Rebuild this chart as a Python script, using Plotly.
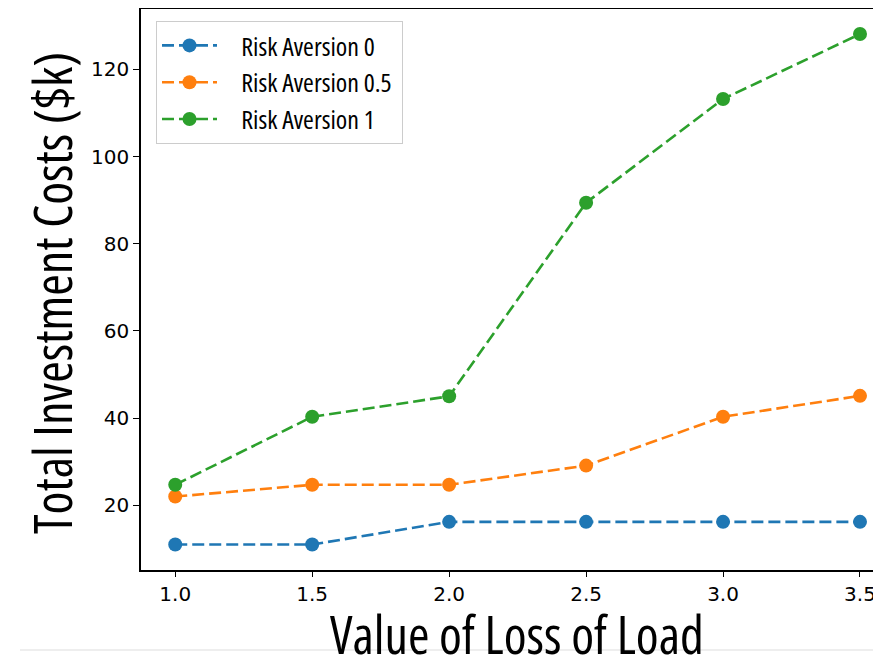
import plotly.graph_objects as go

loss_of_load_value = [1.0, 1.5, 2.0, 2.5, 3.0, 3.5]
risk_aversion_0 = [11.0, 11.0, 16.2, 16.2, 16.2, 16.2]
risk_aversion_05 = [22.0, 24.7, 24.7, 29.1, 40.3, 45.1]
risk_aversion_1 = [24.7, 40.3, 45.0, 89.4, 113.2, 128.1]
series_names = ["Risk Aversion 0", "Risk Aversion 0.5", "Risk Aversion 1"]
series_colors = ["#1f77b4", "#ff7f0e", "#2ca02c"]
x_ticks = [1.0, 1.5, 2.0, 2.5, 3.0, 3.5]
y_ticks = [20, 40, 60, 80, 100, 120]


def cond(s):
    return f'<span style="font-stretch:condensed">{s}</span>'


# browser body has an 8px margin, so the figure is 8px smaller than the window
W, H = 873, 649
L, R, T, B = 133, 0, 1, 87
PW, PH = W - L - R, H - T - B


def px(x):
    return (x - L) / PW


def py(y):
    return (H - B - y) / PH


fig = go.Figure()
for name, vals, col in zip(series_names,
                           [risk_aversion_0, risk_aversion_05, risk_aversion_1],
                           series_colors):
    fig.add_trace(go.Scatter(
        x=loss_of_load_value, y=vals,
        name=cond("&nbsp;&nbsp;&nbsp;&nbsp;" + name + "&nbsp;"),
        mode="lines+markers",
        legendgroup=name,
        line=dict(color=col, width=2.6, dash="12px,5px"),
        marker=dict(color=col, size=14),
    ))

fig.update_layout(
    width=W, height=H,
    margin=dict(l=L, r=R, t=T, b=B, pad=0),
    paper_bgcolor="white", plot_bgcolor="white",
    showlegend=True,
    legend=dict(
        x=px(148), y=py(13), xanchor="left", yanchor="top",
        bgcolor="rgba(255,255,255,0.8)", bordercolor="#cccccc", borderwidth=1,
        font=dict(family="Open Sans", size=26, color="black"),
        itemwidth=55, tracegroupgap=0,
    ),
    xaxis=dict(
        range=[0.875, 0.875 + PW / 273.9],
        tickvals=x_ticks, ticktext=[f"{v:.1f}" for v in x_ticks],
        showgrid=False, zeroline=False,
        showline=True, linecolor="black", linewidth=1.6, mirror=True,
        ticks="outside", ticklen=5, tickwidth=1.2, tickcolor="black",
        tickfont=dict(family="DejaVu Sans", size=20, color="black"),
    ),
    yaxis=dict(
        range=[5.15, 133.85],
        tickvals=y_ticks,
        showgrid=False, zeroline=False,
        showline=True, linecolor="black", linewidth=1.6, mirror=False,
        ticks="outside", ticklen=6, tickwidth=1.2, tickcolor="black",
        tickfont=dict(family="DejaVu Sans", size=20, color="black"),
    ),
    annotations=[
        dict(text=cond("Value of Loss of Load"), xref="paper", yref="paper",
             x=px(509), y=py(625),
             xanchor="center", yanchor="middle", showarrow=False,
             font=dict(family="Open Sans", size=52, color="black")),
        dict(text=cond("Total Investment Costs ($k)"), xref="paper", yref="paper",
             x=px(43), y=py(285),
             xanchor="center", yanchor="middle", showarrow=False, textangle=-90,
             font=dict(family="Open Sans", size=52, color="black")),
    ],
    shapes=[
        dict(type="line", xref="paper", yref="paper",
             x0=px(12), x1=1.0, y0=py(642), y1=py(642),
             line=dict(color="#dddddd", width=1), layer="below"),
    ],
)

fig.write_html("out.html")
